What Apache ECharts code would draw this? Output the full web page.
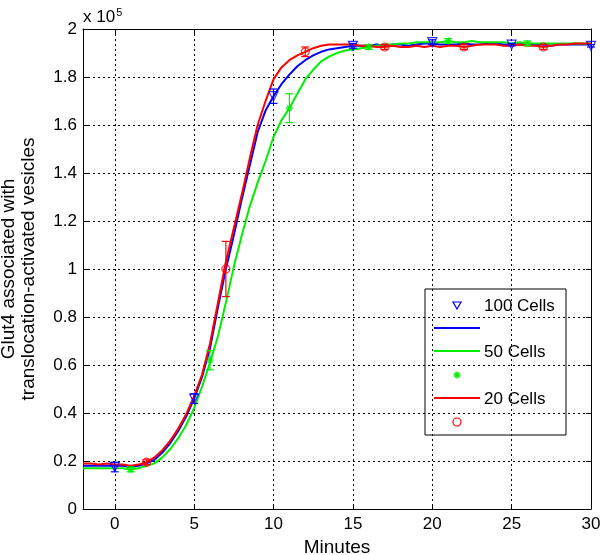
<!DOCTYPE html>
<html>
<head>
<meta charset="utf-8">
<script src="https://cdn.jsdelivr.net/npm/echarts@6/dist/echarts.min.js"></script>
<style>html,body{margin:0;padding:0;background:#fff}#c{width:600px;height:555px}</style>
</head>
<body>
<div id="c"></div>
<script>
// time axis (minutes)
var times = [-2,-1.5,-1,-0.5,0,0.5,1,1.5,2,2.5,3,3.5,4,4.5,5,5.5,6,6.5,7,7.5,8,8.5,9,9.5,10,10.5,11,11.5,12,12.5,13,13.5,14,14.5,15,15.5,16,16.5,17,17.5,18,18.5,19,19.5,20,20.5,21,21.5,22,22.5,23,23.5,24,24.5,25,25.5,26,26.5,27,27.5,28,28.5,29,29.5,30];
// values in units of 1e5
var cells100 = [0.18,0.18,0.18,0.18,0.18,0.18,0.175,0.18,0.19,0.205,0.235,0.275,0.325,0.385,0.46,0.55,0.67,0.84,1.00,1.14,1.29,1.43,1.57,1.66,1.72,1.77,1.81,1.845,1.87,1.89,1.905,1.915,1.92,1.925,1.93,1.93,1.93,1.935,1.93,1.935,1.935,1.93,1.935,1.94,1.94,1.935,1.935,1.935,1.94,1.935,1.935,1.94,1.94,1.935,1.935,1.935,1.94,1.935,1.935,1.93,1.935,1.935,1.935,1.935,1.935];
var cells50 = [0.17,0.17,0.17,0.17,0.17,0.17,0.165,0.17,0.18,0.19,0.215,0.25,0.295,0.35,0.42,0.51,0.61,0.72,0.86,1.01,1.14,1.26,1.36,1.45,1.55,1.62,1.67,1.73,1.79,1.83,1.865,1.885,1.90,1.91,1.915,1.92,1.925,1.93,1.935,1.935,1.94,1.94,1.945,1.945,1.945,1.945,1.95,1.945,1.945,1.95,1.945,1.945,1.945,1.945,1.94,1.945,1.94,1.94,1.94,1.94,1.94,1.94,1.94,1.94,1.94];
var cells20 = [0.19,0.19,0.185,0.19,0.185,0.185,0.18,0.185,0.195,0.215,0.245,0.285,0.335,0.395,0.47,0.56,0.69,0.86,1.03,1.17,1.31,1.46,1.60,1.70,1.79,1.84,1.87,1.89,1.905,1.92,1.93,1.935,1.935,1.935,1.935,1.93,1.93,1.925,1.925,1.93,1.925,1.925,1.93,1.925,1.93,1.925,1.93,1.93,1.925,1.93,1.935,1.935,1.935,1.93,1.93,1.935,1.93,1.93,1.925,1.93,1.935,1.935,1.94,1.94,1.94];

// marker points with error bars
var mark100T = [0,5,10,15,20,25,30];
var mark100V = [0.175,0.46,1.72,1.93,1.945,1.935,1.93];
var err100   = [0.02,0.02,0.03,0.01,0.01,0.005,0.005];
var mark50T = [1,6,11,16,21,26];
var mark50V = [0.165,0.62,1.67,1.925,1.95,1.94];
var err50   = [0.01,0.04,0.06,0.01,0.01,0.01];
var mark20T = [2,7,12,17,22,27];
var mark20V = [0.195,1.00,1.905,1.925,1.925,1.925];
var err20   = [0.01,0.115,0.02,0.01,0.01,0.01];

var xTicks = [0,5,10,15,20,25,30];
var legendLabels = ['100 Cells','50 Cells','20 Cells'];

var BLUE='#0000ff', GREEN='#00ee00', RED='#ff0000';
var FONT='Liberation Sans, Arial, sans-serif';

function zip(a,b){return a.map(function(v,i){return [v,b[i]];});}
function errData(t,v,e){return t.map(function(x,i){return [x,v[i]-e[i],v[i]+e[i]];});}
function errSeries(t,v,e,color){
  return {type:'custom',xAxisIndex:0,yAxisIndex:0,data:errData(t,v,e),z:4,
    renderItem:function(params,api){
      var lo=api.coord([api.value(0),api.value(1)]);
      var hi=api.coord([api.value(0),api.value(2)]);
      var w=4;
      return {type:'group',children:[
        {type:'line',shape:{x1:lo[0],y1:lo[1],x2:hi[0],y2:hi[1]},style:{stroke:color,lineWidth:1.2}},
        {type:'line',shape:{x1:lo[0]-w,y1:lo[1],x2:lo[0]+w,y2:lo[1]},style:{stroke:color,lineWidth:1.2}},
        {type:'line',shape:{x1:hi[0]-w,y1:hi[1],x2:hi[0]+w,y2:hi[1]},style:{stroke:color,lineWidth:1.2}}
      ]};
    }};
}
var starPath='path://M0,-10L0,10M-10,0L10,0M-7,-7L7,7M-7,7L7,-7';

var chart=echarts.init(document.getElementById('c'),null,{renderer:'canvas'});
var axisCommonX={type:'value',min:-2,max:30,
  axisLine:{show:true,onZero:false,lineStyle:{color:'#000',width:1}},
  axisTick:{show:true,inside:true,length:5,customValues:xTicks,lineStyle:{color:'#000'}},
  splitLine:{show:false}};
var axisCommonY={type:'value',min:0,max:2,interval:0.2,
  axisLine:{show:true,onZero:false,lineStyle:{color:'#000',width:1}},
  axisTick:{show:true,inside:true,length:5,lineStyle:{color:'#000'}},
  splitLine:{show:false}};

function ln(x1,y1,x2,y2,c,w){return {type:'line',shape:{x1:x1,y1:y1,x2:x2,y2:y2},style:{stroke:c,lineWidth:w}};}

var option={
  animation:false,
  backgroundColor:'#fff',
  textStyle:{fontFamily:FONT},
  grid:{left:83,right:9,top:29,bottom:46,show:false,containLabel:false,outerBoundsMode:'none'},
  xAxis:[
    Object.assign({},axisCommonX,{position:'bottom',
      axisLabel:{show:true,customValues:xTicks,color:'#000',fontSize:17,fontFamily:FONT,margin:7},
      splitLine:{show:true,lineStyle:{color:'#000',type:[2,3],width:1}},
      name:'Minutes',nameLocation:'middle',nameGap:27,
      nameTextStyle:{color:'#000',fontSize:19,fontFamily:FONT}}),
    Object.assign({},axisCommonX,{position:'top',axisLabel:{show:false}})
  ],
  yAxis:[
    Object.assign({},axisCommonY,{position:'left',
      axisLabel:{show:true,color:'#000',fontSize:17,fontFamily:FONT,margin:6,
        formatter:function(v){return String(Math.round(v*10)/10);}},
      splitLine:{show:true,lineStyle:{color:'#000',type:[2,3],width:1}},
      name:'Glut4 associated with\ntranslocation-activated vesicles',
      nameLocation:'middle',nameGap:44,nameRotate:90,
      nameTextStyle:{color:'#000',fontSize:19,fontFamily:FONT,lineHeight:20}}),
    Object.assign({},axisCommonY,{position:'right',axisLabel:{show:false}})
  ],
  series:[
    {type:'line',data:zip(times,cells100),showSymbol:false,symbol:'none',lineStyle:{color:BLUE,width:2},z:2},
    {type:'line',data:zip(times,cells50),showSymbol:false,symbol:'none',lineStyle:{color:GREEN,width:2},z:2},
    {type:'line',data:zip(times,cells20),showSymbol:false,symbol:'none',lineStyle:{color:RED,width:2},z:3},
    errSeries(mark100T,mark100V,err100,BLUE),
    errSeries(mark50T,mark50V,err50,GREEN),
    errSeries(mark20T,mark20V,err20,RED),
    {type:'scatter',data:zip(mark100T,mark100V),symbol:'triangle',symbolRotate:180,symbolSize:9,z:5,
      itemStyle:{color:'rgba(0,0,0,0)',borderColor:BLUE,borderWidth:1.2}},
    {type:'scatter',data:zip(mark50T,mark50V),symbol:starPath,symbolSize:7,z:5,
      itemStyle:{color:'rgba(0,0,0,0)',borderColor:GREEN,borderWidth:1.5}},
    {type:'scatter',data:zip(mark20T,mark20V),symbol:'circle',symbolSize:8,z:5,
      itemStyle:{color:'rgba(0,0,0,0)',borderColor:RED,borderWidth:1.2}}
  ],
  graphic:[
    {type:'text',left:83,top:7,style:{text:'x 10{s|5}',fill:'#000',font:'17px '+FONT,
      rich:{s:{fontSize:11,verticalAlign:'top',padding:[0,0,10,1],fill:'#000',fontFamily:FONT}}}},
    {type:'group',x:425,y:289,children:[
      {type:'rect',shape:{x:0,y:0,width:141,height:146},style:{fill:'#fff',stroke:'#000',lineWidth:1}},
      {type:'polygon',shape:{points:[[28,13],[36,13],[32,20]]},style:{fill:'none',stroke:BLUE,lineWidth:1.2}},
      {type:'text',x:59,y:17,style:{text:legendLabels[0],fill:'#000',font:'17px '+FONT,verticalAlign:'middle'}},
      ln(9,39,55,39,BLUE,2),
      ln(9,62,55,62,GREEN,2),
      {type:'text',x:59,y:63,style:{text:legendLabels[1],fill:'#000',font:'17px '+FONT,verticalAlign:'middle'}},
      ln(32,82.5,32,89.5,GREEN,1.5), ln(28.5,86,35.5,86,GREEN,1.5),
      ln(29.5,83.5,34.5,88.5,GREEN,1.5), ln(29.5,88.5,34.5,83.5,GREEN,1.5),
      ln(9,109,55,109,RED,2),
      {type:'text',x:59,y:110,style:{text:legendLabels[2],fill:'#000',font:'17px '+FONT,verticalAlign:'middle'}},
      {type:'circle',shape:{cx:32,cy:133,r:4},style:{fill:'none',stroke:RED,lineWidth:1.2}}
    ]}
  ]
};
chart.setOption(option);
</script>
</body>
</html>
